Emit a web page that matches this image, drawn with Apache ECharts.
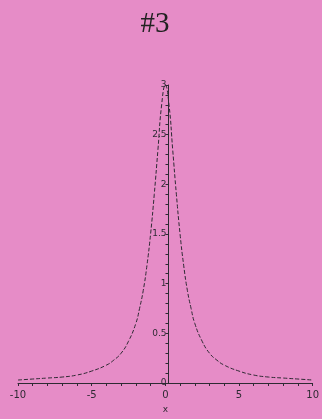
<!DOCTYPE html>
<html>
<head>
<meta charset="utf-8">
<script src="https://cdn.jsdelivr.net/npm/echarts@6/dist/echarts.min.js"></script>
<style>
  html, body { margin: 0; padding: 0; background: #e68cc7; }
  #chart { width: 322px; height: 419px; }
</style>
</head>
<body>
<div id="chart"></div>
<script>
// Curve samples (x, y) of the plotted function
const xValues = [-10, -9, -8, -7, -6, -5, -4, -3.5, -3, -2.5, -2, -1.75, -1.5, -1.25, -1, -0.75, -0.5, -0.25, 0,
                 0.25, 0.5, 0.75, 1, 1.25, 1.5, 1.75, 2, 2.5, 3, 3.5, 4, 5, 6, 7, 8, 9, 10];
const yValues = [0.03, 0.04, 0.05, 0.06, 0.08, 0.12, 0.18, 0.23, 0.3, 0.42, 0.6, 0.75, 0.93, 1.18, 1.5, 1.9, 2.35, 2.8, 3,
                 2.8, 2.35, 1.9, 1.5, 1.18, 0.93, 0.75, 0.6, 0.42, 0.3, 0.23, 0.18, 0.12, 0.08, 0.06, 0.05, 0.04, 0.03];
const xTickLabels = [-10, -5, 0, 5, 10];
const yTickLabels = [0, 0.5, 1, 1.5, 2, 2.5, 3];

const points = xValues.map((x, i) => [x, yValues[i]]);
const ink = '#2e2a33';

const gridLeft = 18, gridRight = 3, chartWidth = 322;
// The y axis sits at x = 0, in the middle of the plot area
const yAxisShift = (chartWidth - gridLeft - gridRight) / 2;

const chart = echarts.init(document.getElementById('chart'));
chart.setOption({
  backgroundColor: '#e68cc7',
  animation: false,
  title: {
    text: '#3',
    left: 150,
    top: 5,
    textAlign: 'center',
    textStyle: { fontFamily: 'Liberation Serif', fontSize: 29, fontWeight: 'normal', color: '#222' }
  },
  grid: { left: gridLeft, right: gridRight, top: 85, bottom: 36 },
  xAxis: {
    type: 'value',
    min: -10, max: 10, interval: 1,
    name: 'x', nameLocation: 'middle', nameGap: 22,
    nameTextStyle: { fontFamily: 'DejaVu Sans', fontSize: 9, color: ink },
    axisLine: { onZero: true, lineStyle: { color: ink, width: 1 } },
    axisTick: { show: true, length: 3, lineStyle: { color: ink } },
    splitLine: { show: false },
    axisLabel: {
      fontFamily: 'DejaVu Sans', fontSize: 10, color: ink, margin: 7,
      formatter: v => xTickLabels.includes(v) ? String(v) : ''
    }
  },
  yAxis: {
    type: 'value',
    min: 0, max: 3, interval: 0.5,
    offset: -yAxisShift,
    axisLine: { onZero: false, lineStyle: { color: ink, width: 1 } },
    axisTick: { show: true, length: 3, lineStyle: { color: ink } },
    minorTick: { show: true, splitNumber: 5, length: 3, lineStyle: { color: ink } },
    splitLine: { show: false },
    axisLabel: {
      fontFamily: 'DejaVu Sans', fontSize: 9, color: ink, margin: 2,
      formatter: v => yTickLabels.includes(v) ? String(v) : ''
    }
  },
  series: [{
    type: 'line',
    data: points,
    smooth: true,
    symbol: 'none',
    lineStyle: { color: ink, width: 1, type: [4, 2] }
  }]
});
</script>
</body>
</html>
